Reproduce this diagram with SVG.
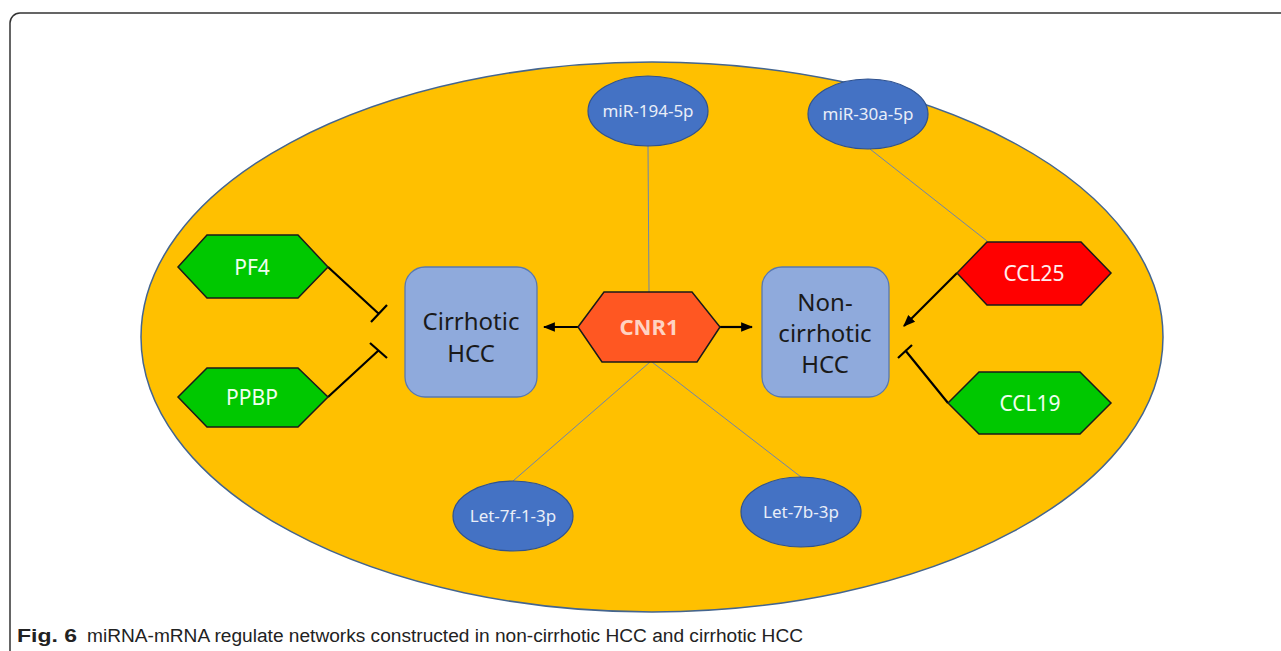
<svg xmlns="http://www.w3.org/2000/svg" width="1281" height="651" viewBox="0 0 1281 651">
<defs>
<style>
.lbl{font-family:"Noto Sans","Open Sans","Liberation Sans",sans-serif;text-anchor:middle}
.mir{fill:#4472C4;stroke:#2F528F;stroke-width:1.2}
.mirt{fill:#E9EEF8;font-size:17px}
.hex{stroke:#1a1a1a;stroke-width:1.5}
.box{fill:#8FAADC;stroke:#5878B0;stroke-width:1.3}
.boxt{fill:#1a1a1a;font-size:24px}
.thin{stroke:#6D84AE;stroke-width:1;fill:none}
.bold{stroke:#000;stroke-width:2.2;fill:none}
</style>
<marker id="ah" viewBox="0 0 10 10" refX="9" refY="5" markerWidth="5.5" markerHeight="5.5" orient="auto" markerUnits="strokeWidth">
<path d="M0,1 L10,5 L0,9 z" fill="#000"/>
</marker>
</defs>
<rect width="1281" height="651" fill="#fff"/>
<rect id="frame" x="10" y="13" width="1300" height="700" rx="10" fill="none" stroke="#333" stroke-width="1.5"/>
<ellipse id="bg" cx="652" cy="337" rx="511" ry="275" fill="#FFC000" stroke="#44658F" stroke-width="1.5"/>
<g id="connectors">
<line class="thin" x1="648" y1="146" x2="649" y2="292"/>
<line class="thin" x1="870" y1="149" x2="987" y2="241"/>
<line class="thin" x1="650" y1="362" x2="513" y2="481"/>
<line class="thin" x1="652" y1="362" x2="801" y2="477"/>
<line class="bold" x1="578" y1="327" x2="544" y2="327" marker-end="url(#ah)"/>
<line class="bold" x1="720" y1="327" x2="752" y2="327" marker-end="url(#ah)"/>
<line class="bold" x1="957" y1="273" x2="904" y2="326" marker-end="url(#ah)"/>
<path class="bold" d="M328,267 L379,314 M371,322 L387,305"/>
<path class="bold" d="M328,397 L379,350 M370,343 L387,358"/>
<path class="bold" d="M948,403 L905,350 M898,358 L912,345"/>
</g>
<g id="miR-194-5p"><ellipse class="mir" cx="648" cy="111" rx="60" ry="35"/><text class="lbl mirt" x="648" y="117">miR-194-5p</text></g>
<g id="miR-30a-5p"><ellipse class="mir" cx="868" cy="114" rx="60" ry="35"/><text class="lbl mirt" x="868" y="120">miR-30a-5p</text></g>
<g id="Let-7f-1-3p"><ellipse class="mir" cx="513" cy="516" rx="60" ry="35"/><text class="lbl mirt" x="513" y="522">Let-7f-1-3p</text></g>
<g id="Let-7b-3p"><ellipse class="mir" cx="801" cy="512" rx="60" ry="35"/><text class="lbl mirt" x="801" y="518">Let-7b-3p</text></g>
<g id="CNR1"><polygon class="hex" fill="#FF5722" points="578,327 604,292 692,292 720,327 697,362 602,362"/><text class="lbl" x="649" y="335" font-size="22" font-weight="bold" fill="#FFD3C2">CNR1</text></g>
<g id="cirrhotic"><rect class="box" x="405" y="267" width="132" height="130" rx="20"/><text class="lbl boxt" x="471" y="330">Cirrhotic</text><text class="lbl boxt" x="471" y="362">HCC</text></g>
<g id="noncirrhotic"><rect class="box" x="762" y="267" width="127" height="130" rx="20"/><text class="lbl boxt" x="825" y="311">Non-</text><text class="lbl boxt" x="825" y="342">cirrhotic</text><text class="lbl boxt" x="825" y="373">HCC</text></g>
<g id="PF4"><polygon class="hex" fill="#00C800" points="178,267 207,235 298,235 328,267 298,298 207,298"/><text class="lbl" x="252" y="275" font-size="21" fill="#F0FFF0">PF4</text></g>
<g id="PPBP"><polygon class="hex" fill="#00C800" points="178,397 207,368 298,368 328,397 298,427 207,427"/><text class="lbl" x="252" y="405" font-size="21" fill="#F0FFF0">PPBP</text></g>
<g id="CCL25"><polygon class="hex" fill="#FF0000" points="957,273 987,242 1081,242 1111,273 1081,305 987,305"/><text class="lbl" x="1034" y="281" font-size="21" fill="#FFEDED">CCL25</text></g>
<g id="CCL19"><polygon class="hex" fill="#00C800" points="948,403 979,372 1080,372 1111,403 1080,434 979,434"/><text class="lbl" x="1030" y="411" font-size="21" fill="#F0FFF0">CCL19</text></g>
<g id="caption" font-family="'Liberation Sans',sans-serif" font-size="18" fill="#222">
<text x="17" y="642" font-weight="bold" textLength="60" lengthAdjust="spacingAndGlyphs">Fig. 6</text>
<text x="87" y="642" textLength="716" lengthAdjust="spacingAndGlyphs">miRNA-mRNA regulate networks constructed in non-cirrhotic HCC and cirrhotic HCC</text>
</g>
</svg>
